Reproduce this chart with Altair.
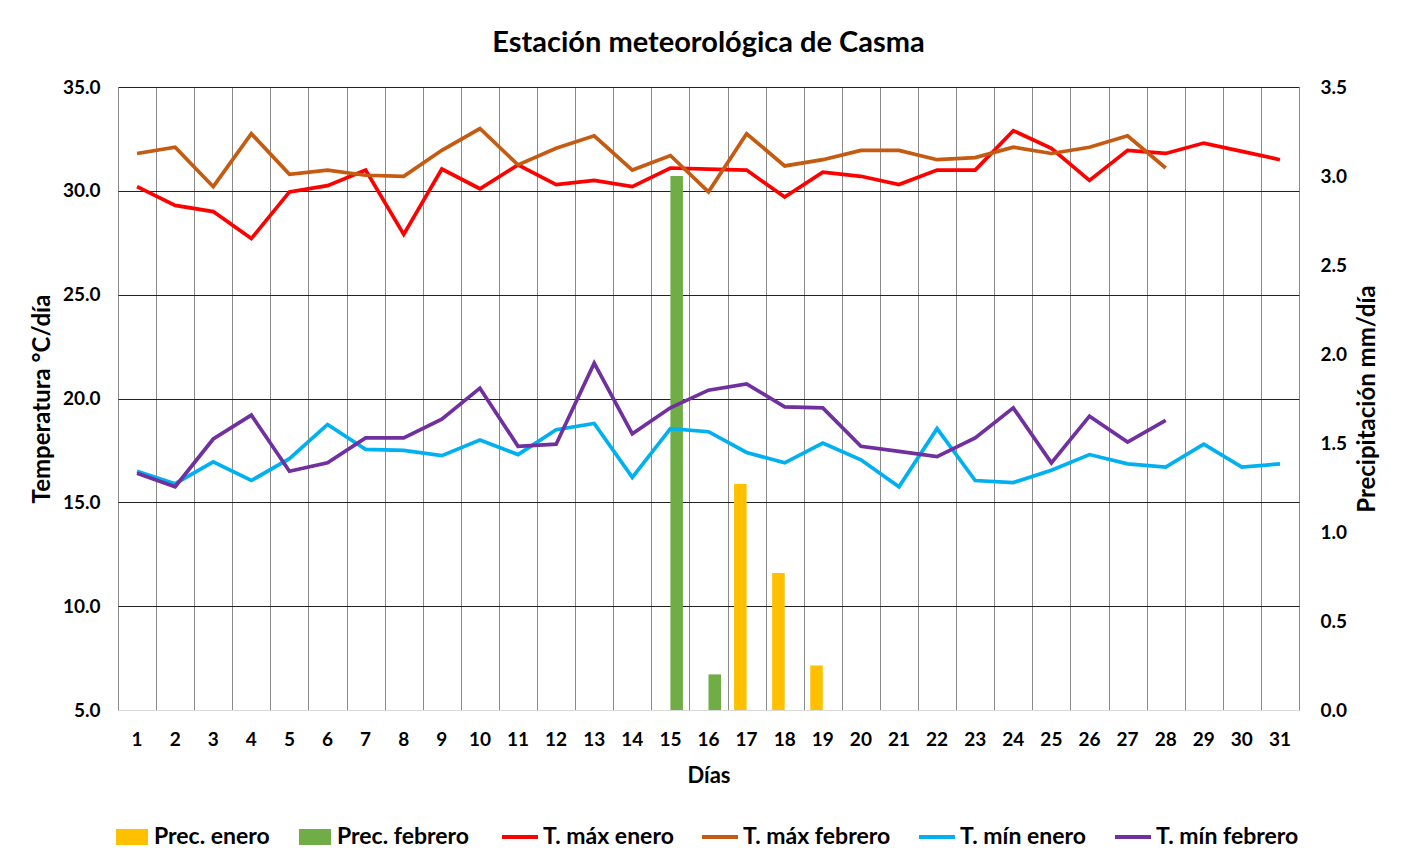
import altair as alt
import pandas as pd

days = list(range(1, 32))
tmax_enero = [30.2, 29.3, 29.0, 27.7, 29.95, 30.25, 31.0, 27.9, 31.05, 30.1, 31.25, 30.3, 30.5, 30.2, 31.1,
               31.05, 31.0, 29.7, 30.9, 30.7, 30.3, 31.0, 31.0, 32.9, 32.05, 30.5, 31.95, 31.8, 32.3, 31.9, 31.5]
tmax_febrero = [31.8, 32.1, 30.2, 32.75, 30.8, 31.0, 30.75, 30.7, 31.95, 33.0, 31.25, 32.05, 32.65, 31.0,
                31.7, 29.95, 32.75, 31.2, 31.5, 31.95, 31.95, 31.5, 31.6, 32.1, 31.8, 32.1, 32.65, 31.1]
tmin_enero = [16.5, 15.9, 16.95, 16.05, 17.1, 18.75, 17.55, 17.5, 17.25, 18.0, 17.3, 18.5, 18.8, 16.2, 18.55,
              18.4, 17.4, 16.9, 17.85, 17.05, 15.75, 18.55, 16.05, 15.95, 16.55, 17.3, 16.85, 16.7, 17.8, 16.7, 16.85]
tmin_febrero = [16.4, 15.75, 18.05, 19.2, 16.5, 16.9, 18.1, 18.1, 19.0, 20.5, 17.7, 17.8, 21.7, 18.3,
                19.55, 20.4, 20.7, 19.6, 19.55, 17.7, 17.45, 17.2, 18.1, 19.55, 16.9, 19.15, 17.9, 18.95]
prec_enero_days = [17, 18, 19]
prec_enero = [1.27, 0.77, 0.25]
prec_febrero_days = [15, 16]
prec_febrero = [3.0, 0.2]

bar_series = ["Prec. enero", "Prec. febrero"]
bar_colors = ["#FFC000", "#70AD47"]
line_series = ["T. máx enero", "T. máx febrero", "T. mín enero", "T. mín febrero"]
line_colors = ["#FF0000", "#C55A11", "#00B0F0", "#7030A0"]

bars_df = pd.DataFrame(
    [{"dia": d, "prec": v, "serie": bar_series[0]} for d, v in zip(prec_enero_days, prec_enero)]
    + [{"dia": d, "prec": v, "serie": bar_series[1]} for d, v in zip(prec_febrero_days, prec_febrero)]
)
rows = []
for name, vals in zip(line_series, [tmax_enero, tmax_febrero, tmin_enero, tmin_febrero]):
    for d, v in zip(days, vals):
        rows.append({"dia": d, "temp": v, "serie": name})
lines_df = pd.DataFrame(rows)

FONT = "Lato"
xscale = alt.Scale(domain=days, paddingInner=0, paddingOuter=0)

bars = alt.Chart(bars_df).mark_bar().encode(
    x=alt.X("dia:O", scale=xscale,
            axis=alt.Axis(orient="bottom", tickBand="extent", grid=True, gridColor="#8a8a8a",
                          gridWidth=1, labels=False, ticks=False, domain=False, title=None)),
    xOffset=alt.XOffset("serie:N", scale=alt.Scale(domain=bar_series, paddingInner=0, paddingOuter=0.52)),
    y=alt.Y("prec:Q", scale=alt.Scale(domain=[0, 3.5], nice=False),
            axis=alt.Axis(orient="right", values=[0, 0.5, 1, 1.5, 2, 2.5, 3, 3.5], format=".1f",
                          grid=False, ticks=False, domain=False, labelPadding=21,
                          title="Precipitación mm/día", titlePadding=33, titleAngle=270,
                          titleFontSize=24)),
    color=alt.Color("serie:N", scale=alt.Scale(domain=bar_series, range=bar_colors),
                    legend=alt.Legend(title=None, orient="none", direction="horizontal",
                                      legendX=-3, legendY=733,
                                      symbolType="M-1,-0.5H1V0.5H-1Z", symbolSize=1024,
                                      columnPadding=28, labelOffset=5, padding=0)),
)

lines = alt.Chart(lines_df).mark_line(strokeWidth=3.7).encode(
    x=alt.X("dia:O", scale=xscale,
            axis=alt.Axis(orient="bottom", grid=False, ticks=False, domain=True, domainColor="#d9d9d9",
                          labelAngle=0, labelPadding=20, title="Días", titlePadding=16,
                          titleFontSize=22)),
    y=alt.Y("temp:Q", scale=alt.Scale(domain=[5, 35], nice=False, zero=False),
            axis=alt.Axis(orient="left", values=[5, 10, 15, 20, 25, 30, 35], format=".1f",
                          grid=True, gridColor="#222222", gridWidth=1,
                          gridOpacity={"condition": {"test": "datum.value <= 5", "value": 0}, "value": 1},
                          ticks=False, domain=False, labelPadding=18,
                          title="Temperatura °C/día", titlePadding=8, titleFontSize=24)),
    stroke=alt.Stroke("serie:N", scale=alt.Scale(domain=line_series, range=line_colors),
                      legend=alt.Legend(title=None, orient="none", direction="horizontal",
                                        legendX=382, legendY=730,
                                        symbolType="stroke", symbolSize=1296, symbolStrokeWidth=4,
                                        columnPadding=20, labelOffset=3, padding=0)),
    detail="serie:N",
)

chart = alt.layer(bars, lines).resolve_scale(
    y="independent", color="independent"
).resolve_axis(
    x="independent", y="independent"
).properties(
    width=1181, height=623,
    autosize=alt.AutoSizeParams(type="none"),
    padding={"left": 110, "top": 79, "right": 100, "bottom": 147},
    title=alt.TitleParams("Estación meteorológica de Casma", font=FONT, fontSize=29,
                          fontWeight="bold", color="black", anchor="middle", offset=20),
).configure(
    font=FONT,
).configure_view(
    stroke=None,
).configure_axis(
    labelFont=FONT, labelFontSize=19, labelFontWeight="bold", labelColor="black",
    titleFont=FONT, titleFontSize=22, titleFontWeight="bold", titleColor="black",
).configure_legend(
    labelFont=FONT, labelFontSize=23, labelFontWeight="bold", labelColor="black", labelLimit=300,
)

chart.save("out.html", embed_options={"renderer": "svg", "actions": False})
